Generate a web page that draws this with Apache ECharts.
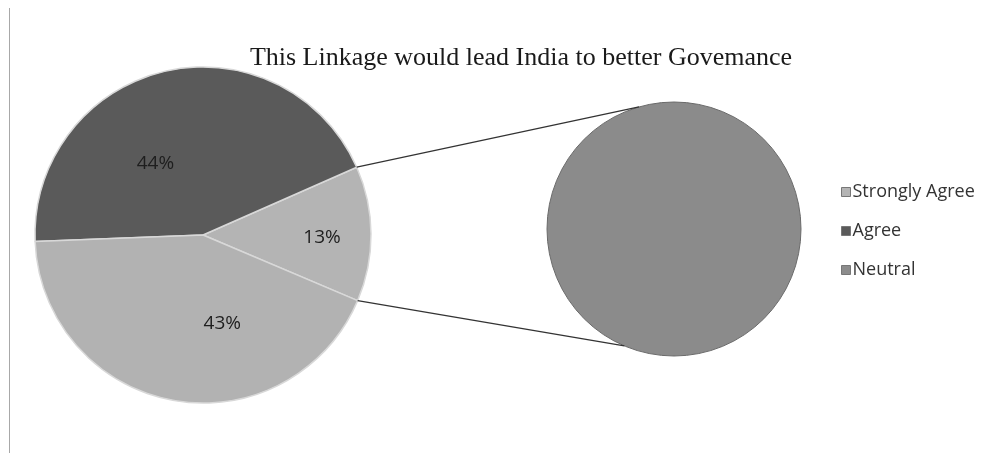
<html>
<head>
<meta charset="UTF-8"/>
<title>Pie of pie</title>
<script type="text/javascript" src="https://cdn.jsdelivr.net/npm/echarts@6/dist/echarts.min.js"></script>
<style type="text/css">
	body { margin: 0; background: #fff; }
	#canvasDiv { width: 997px; height: 453px; }
</style>
</head>
<body>
<div id="canvasDiv"></div>
<script type="text/javascript">
	var titleText = "This Linkage would lead India to better Govemance";
	var categories = ["Strongly Agree", "Agree", "Neutral"];
	var shares = [13, 44, 43];
	var sliceColors = ["#b4b4b4", "#5a5a5a", "#b2b2b2"];
	var legendColors = ["#b4b4b4", "#5a5a5a", "#8c8c8c"];
	var secondName = "Strongly Agree";
	var secondShare = [13];

	var cx1 = 203, cy1 = 235, r1 = 168;
	var cx2 = 674, cy2 = 229, r2 = 127;
	var startAngle = -23;

	// angles of the split slice edges on the first pie (from data)
	var total = shares.reduce(function(a, b){ return a + b; }, 0);
	var a0 = startAngle, a1 = startAngle + shares[0] / total * 360;
	function pt(cx, cy, r, deg){
		var t = deg * Math.PI / 180;
		return [cx + r * Math.cos(t), cy - r * Math.sin(t)];
	}
	var pTop = pt(cx1, cy1, r1, a1), pBot = pt(cx1, cy1, r1, a0);
	var qTop = pt(cx2, cy2, r2, 106), qBot = pt(cx2, cy2, r2, -113);

	var labelOffsets = [[32, 3], [-28, 13], [35, 3]];

	var pieData = [];
	for (var i = 0; i < categories.length; i++) {
		pieData.push({
			name: categories[i],
			value: shares[i],
			itemStyle: { color: sliceColors[i] },
			label: { offset: labelOffsets[i] }
		});
	}
	var legendData = [];
	for (var j = 0; j < categories.length; j++) {
		legendData.push({ name: categories[j], itemStyle: { color: legendColors[j], borderColor: "#777", borderWidth: 1 } });
	}

	var chart = echarts.init(document.getElementById("canvasDiv"));
	chart.setOption({
		animation: false,
		title: {
			text: titleText,
			left: 516,
			top: 40,
			textAlign: "center",
			textStyle: { fontFamily: "Liberation Serif", fontSize: 26, fontWeight: "normal", color: "#1a1a1a" }
		},
		legend: {
			orient: "vertical",
			left: 836,
			top: 178,
			icon: "rect",
			itemWidth: 9,
			itemHeight: 9,
			itemGap: 21,
			selectedMode: false,
			textStyle: { fontFamily: "Open Sans", fontSize: 18, color: "#333", padding: [0, 0, 0, -3] },
			data: legendData
		},
		graphic: [
			{ type: "line", shape: { x1: 9.5, y1: 8, x2: 9.5, y2: 453 }, style: { stroke: "#a8a8a8", lineWidth: 1 } },
			{ type: "line", z: 10, shape: { x1: pTop[0], y1: pTop[1], x2: qTop[0], y2: qTop[1] }, style: { stroke: "#333", lineWidth: 1.2 } },
			{ type: "line", z: 10, shape: { x1: pBot[0], y1: pBot[1], x2: qBot[0], y2: qBot[1] }, style: { stroke: "#333", lineWidth: 1.2 } }
		],
		series: [{
			type: "pie",
			center: [cx1, cy1],
			radius: r1,
			startAngle: startAngle,
			clockwise: false,
			label: {
				position: "inside",
				formatter: "{c}%",
				fontFamily: "Open Sans",
				fontSize: 19,
				color: "#1e1e1e"
			},
			labelLine: { show: false },
			itemStyle: { borderColor: "#d8d8d8", borderWidth: 1.5 },
			emphasis: { disabled: true },
			data: pieData
		}, {
			type: "pie",
			center: [cx2, cy2],
			radius: r2,
			label: { show: false },
			labelLine: { show: false },
			itemStyle: { borderColor: "#6a6a6a", borderWidth: 1 },
			emphasis: { disabled: true },
			data: [{ name: secondName, value: secondShare[0], itemStyle: { color: "#8b8b8b" } }]
		}]
	});
</script>
</body>
</html>
